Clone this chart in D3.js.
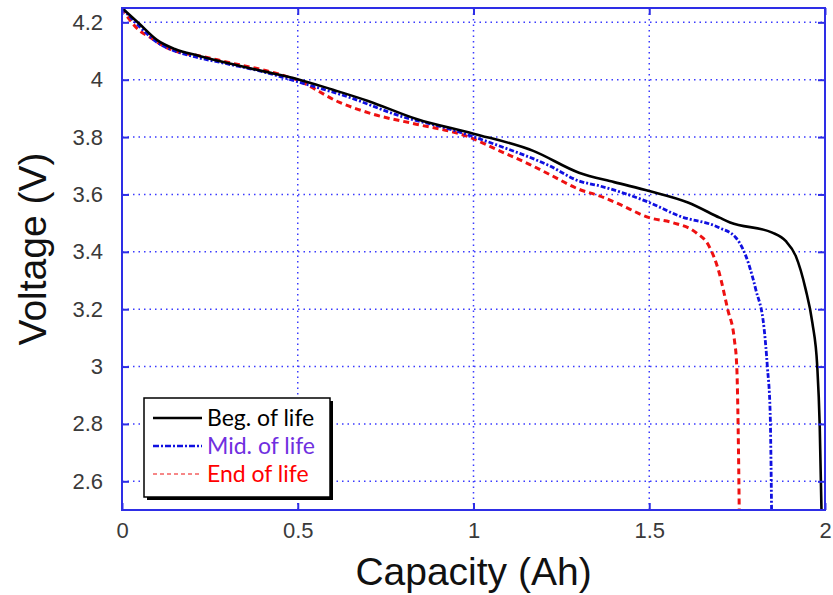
<!DOCTYPE html>
<html>
<head>
<meta charset="utf-8">
<script src="https://cdn.jsdelivr.net/npm/d3@7"></script>
<style>
  body { margin: 0; background: #fff; }
  svg { display: block; }
</style>
</head>
<body>
<div id="chart"></div>
<script>
// discharge curves: [capacity Ah, voltage V]
var begOfLife = [
  [0, 4.25], [0.05, 4.194], [0.1, 4.138], [0.15, 4.107], [0.22, 4.083], [0.3, 4.058],
  [0.4, 4.03], [0.5, 4.002], [0.6, 3.965], [0.7, 3.926], [0.84, 3.862], [1.0, 3.812],
  [1.17, 3.752], [1.3, 3.676], [1.4, 3.643], [1.5, 3.612], [1.61, 3.572], [1.7, 3.519],
  [1.73, 3.502], [1.85, 3.467], [1.888, 3.438], [1.917, 3.385], [1.945, 3.269],
  [1.964, 3.153], [1.978, 3.0], [1.985, 2.792], [1.99, 2.5]
];
var midOfLife = [
  [0, 4.25], [0.05, 4.185], [0.1, 4.13], [0.15, 4.1], [0.2, 4.082], [0.3, 4.055],
  [0.4, 4.028], [0.505, 3.991], [0.648, 3.938], [0.79, 3.874], [0.932, 3.828],
  [1.074, 3.769], [1.216, 3.7], [1.3, 3.647], [1.358, 3.63], [1.5, 3.572], [1.585, 3.525],
  [1.699, 3.484], [1.746, 3.45], [1.775, 3.385], [1.803, 3.269], [1.827, 3.13],
  [1.836, 3.0], [1.844, 2.839], [1.848, 2.5]
];
var endOfLife = [
  [0, 4.25], [0.02, 4.212], [0.05, 4.171], [0.08, 4.148], [0.117, 4.118], [0.165, 4.095],
  [0.222, 4.083], [0.3, 4.061], [0.411, 4.031], [0.496, 4.0], [0.619, 3.921], [0.714, 3.88],
  [0.837, 3.845], [0.979, 3.804], [1.074, 3.752], [1.159, 3.705], [1.216, 3.67], [1.3, 3.618],
  [1.358, 3.595], [1.415, 3.566], [1.5, 3.519], [1.566, 3.502], [1.633, 3.467], [1.67, 3.42],
  [1.699, 3.327], [1.723, 3.2], [1.742, 3.095], [1.749, 3.0], [1.753, 2.78], [1.756, 2.5]
];
var xTicks = [0, 0.5, 1, 1.5, 2];
var yTicks = [2.6, 2.8, 3, 3.2, 3.4, 3.6, 3.8, 4, 4.2];
var seriesNames = ["Beg. of life", "Mid. of life", "End of life"];

var width = 833, height = 595;
var plotLeft = 122, plotRight = 825, plotTop = 8, plotBottom = 510;
var axisBlue = "#2e2ee6";

var svg = d3.select("#chart").append("svg")
    .attr("width", width)
    .attr("height", height);

var xScale = d3.scaleLinear().domain([0, 2]).range([plotLeft, plotRight]);
var yScale = d3.scaleLinear().domain([2.5, 4.25]).range([plotBottom, plotTop]);

svg.append("clipPath").attr("id", "plotClip")
  .append("rect")
    .attr("x", plotLeft).attr("y", plotTop)
    .attr("width", plotRight - plotLeft).attr("height", plotBottom - plotTop);

// dotted grid
svg.append("g").selectAll("line")
    .data(xTicks.slice(1, -1))
  .enter().append("line")
    .attr("x1", function(d) { return xScale(d); })
    .attr("x2", function(d) { return xScale(d); })
    .attr("y1", plotTop).attr("y2", plotBottom)
    .style("stroke", "#3a3aff")
    .style("stroke-width", 1.5)
    .style("stroke-dasharray", "1.5,4");

svg.append("g").selectAll("line")
    .data(yTicks)
  .enter().append("line")
    .attr("y1", function(d) { return yScale(d); })
    .attr("y2", function(d) { return yScale(d); })
    .attr("x1", plotLeft).attr("x2", plotRight)
    .style("stroke", "#3a3aff")
    .style("stroke-width", 1.5)
    .style("stroke-dasharray", "1.5,4");

// curves
var line = d3.line()
    .x(function(d) { return xScale(d[0]); })
    .y(function(d) { return yScale(d[1]); })
    .curve(d3.curveMonotoneX);

var curves = svg.append("g").attr("clip-path", "url(#plotClip)");

curves.append("path").datum(endOfLife)
    .attr("d", line)
    .style("fill", "none")
    .style("stroke", "#ee1111")
    .style("stroke-width", 3)
    .style("stroke-dasharray", "6,4");

curves.append("path").datum(midOfLife)
    .attr("d", line)
    .style("fill", "none")
    .style("stroke", "#1010e0")
    .style("stroke-width", 2.8)
    .style("stroke-dasharray", "5,2,2,2");

curves.append("path").datum(begOfLife)
    .attr("d", line)
    .style("fill", "none")
    .style("stroke", "#000")
    .style("stroke-width", 2.6);

// axes with inward ticks on every side
var fmt = function(d) { return String(d); };
var xAxisB = d3.axisBottom(xScale).tickValues(xTicks).tickSizeInner(-7).tickSizeOuter(0).tickPadding(12).tickFormat(fmt);
var xAxisT = d3.axisTop(xScale).tickValues(xTicks).tickSizeInner(-7).tickSizeOuter(0).tickFormat("");
var yAxisL = d3.axisLeft(yScale).tickValues(yTicks).tickSizeInner(-7).tickSizeOuter(0).tickPadding(19).tickFormat(fmt);
var yAxisR = d3.axisRight(yScale).tickValues(yTicks).tickSizeInner(-7).tickSizeOuter(0).tickFormat("");

function styleAxis(g) {
  g.select(".domain").remove();
  g.selectAll(".tick line").style("stroke", axisBlue).style("stroke-width", 2);
  g.selectAll("text")
    .style("fill", "#3a3a3a")
    .style("font-size", "22px")
    .style("font-family", "'Liberation Sans', Arial, sans-serif");
}

svg.append("g").attr("transform", "translate(0," + plotBottom + ")").call(xAxisB).call(styleAxis);
svg.append("g").attr("transform", "translate(0," + plotTop + ")").call(xAxisT).call(styleAxis);
svg.append("g").attr("transform", "translate(" + plotLeft + ",0)").call(yAxisL).call(styleAxis);
svg.append("g").attr("transform", "translate(" + plotRight + ",0)").call(yAxisR).call(styleAxis);

svg.append("rect")
    .attr("x", plotLeft).attr("y", plotTop)
    .attr("width", plotRight - plotLeft).attr("height", plotBottom - plotTop)
    .style("fill", "none")
    .style("stroke", axisBlue)
    .style("stroke-width", 2);

// axis titles
svg.append("text")
    .attr("x", (plotLeft + plotRight) / 2)
    .attr("y", 585)
    .attr("text-anchor", "middle")
    .text("Capacity (Ah)")
    .style("fill", "#111")
    .style("font-size", "39px")
    .style("font-family", "'Liberation Sans', Arial, sans-serif");

svg.append("text")
    .attr("transform", "translate(46," + 249 + ") rotate(-90)")
    .attr("text-anchor", "middle")
    .text("Voltage (V)")
    .style("fill", "#111")
    .style("font-size", "39px")
    .style("font-family", "'Liberation Sans', Arial, sans-serif");

// legend
var lg = svg.append("g").attr("transform", "translate(144,398)");
lg.append("rect")
    .attr("x", 3).attr("y", 3).attr("width", 186).attr("height", 99)
    .style("fill", "#000");
lg.append("rect")
    .attr("x", 0).attr("y", 0).attr("width", 186).attr("height", 99)
    .style("fill", "#fff")
    .style("stroke", "#000")
    .style("stroke-width", 1.5);

var legendStyles = [
  { stroke: "#000", width: 2.6, dash: null, text: "#000" },
  { stroke: "#1010e0", width: 2.6, dash: "6,2,2,2", text: "#7030e0" },
  { stroke: "#ee1111", width: 1.2, dash: "4,3", text: "#ff0000" }
];

var rows = lg.selectAll(".legendRow")
    .data(seriesNames)
  .enter().append("g")
    .attr("class", "legendRow")
    .attr("transform", function(d, i) { return "translate(0," + (20 + i * 28) + ")"; });

rows.append("line")
    .attr("x1", 9).attr("x2", 58).attr("y1", 0).attr("y2", 0)
    .style("stroke", function(d, i) { return legendStyles[i].stroke; })
    .style("stroke-width", function(d, i) { return legendStyles[i].width; })
    .style("stroke-dasharray", function(d, i) { return legendStyles[i].dash; });

rows.append("text")
    .attr("x", 63)
    .attr("y", 8)
    .text(function(d) { return d; })
    .style("fill", function(d, i) { return legendStyles[i].text; })
    .style("font-size", "23px")
    .style("font-family", "Lato, 'Open Sans', sans-serif");
</script>
</body>
</html>
